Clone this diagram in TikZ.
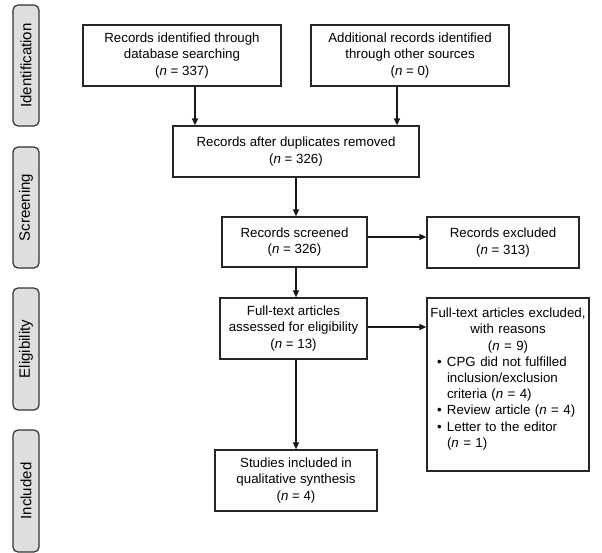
\documentclass[tikz,border=0pt]{standalone}
\usepackage{fontspec}
\setmainfont{Liberation Sans}
\usetikzlibrary{arrows.meta}
\begin{document}
\begin{tikzpicture}[x=1pt,y=-1pt,
 box/.style={draw=black!85, line width=1.2pt, align=center, inner sep=0pt, font=\fontsize{13.3}{16.5}\selectfont},
 phase/.style={draw=black!80, fill=black!13, rounded corners=5pt, line width=1.2pt, minimum height=26pt, inner sep=0pt, font=\fontsize{15}{18}\selectfont},
 arr/.style={line width=1.4pt, draw=black!90, -{Triangle[length=7pt,width=6pt]}}]
\useasboundingbox (0,0) rectangle (602,553);
% phase labels
\node[phase, minimum width=121pt, rotate=90] (pid) at (26,65.5) {Identification};
\node[phase, minimum width=121pt, rotate=90] (pscr) at (26,207.5) {Screening};
\node[phase, minimum width=122pt, rotate=90] (pel) at (26,349) {Eligibility};
\node[phase, minimum width=122pt, rotate=90] (pinc) at (26,491) {Included};
% boxes
\node[box, minimum width=198pt, minimum height=61pt] (db) at (182,55.5) {Records identified through\\database searching\\(\textit{n} = 337)};
\node[box, minimum width=198pt, minimum height=61pt] (other) at (410,55.5) {Additional records identified\\through other sources\\(\textit{n} = 0)};
\node[box, minimum width=246pt, minimum height=51pt] (dup) at (296,151.5) {Records after duplicates removed\\(\textit{n} = 326)};
\node[box, minimum width=145pt, minimum height=50pt] (scr) at (294.5,242) {Records screened\\(\textit{n} = 326)};
\node[box, minimum width=152pt, minimum height=51pt] (excl) at (503,242.5) {Records excluded\\(\textit{n} = 313)};
\node[box, minimum width=147pt, minimum height=61pt] (full) at (293.5,328.5) {Full-text articles\\assessed for eligibility\\(\textit{n} = 13)};
\node[box, minimum width=162pt, minimum height=173pt] (excl2) at (508,384.5) {};
\node[anchor=north, text width=160pt, inner sep=0pt, align=left, font=\fontsize{13.3}{16.2}\selectfont] (excl2text) at ([yshift=-10.5pt]excl2.north) {%
{\centering Full-text articles excluded,\\with reasons\\(\textit{n} = 9)\par}%
\raggedright
\hspace*{9pt}\makebox[10pt][l]{•}CPG did not fulfilled\\
\hspace*{19pt}inclusion/exclusion\\
\hspace*{19pt}criteria (\textit{n} = 4)\\
\hspace*{9pt}\makebox[10pt][l]{•}Review article (\textit{n} = 4)\\
\hspace*{9pt}\makebox[10pt][l]{•}Letter to the editor\\
\hspace*{19pt}(\textit{n} = 1)};
\node[box, minimum width=162pt, minimum height=61pt] (incl) at (296,480.5) {Studies included in\\qualitative synthesis\\(\textit{n} = 4)};
% arrows
\draw[arr] ([xshift=13pt]db.south) -- ([xshift=13pt]db.south |- dup.north);
\draw[arr] ([xshift=-13pt]other.south) -- ([xshift=-13pt]other.south |- dup.north);
\draw[arr] (dup.south) -- (dup.south |- scr.north);
\draw[arr] ([yshift=5pt]scr.east) -- ([yshift=5pt]scr.east -| excl.west);
\draw[arr] (dup.south |- scr.south) -- (dup.south |- full.north);
\draw[arr] ([yshift=1.5pt]full.east) -- ([yshift=1.5pt]full.east -| excl2.west);
\draw[arr] (dup.south |- full.south) -- (dup.south |- incl.north);
\end{tikzpicture}
\end{document}
